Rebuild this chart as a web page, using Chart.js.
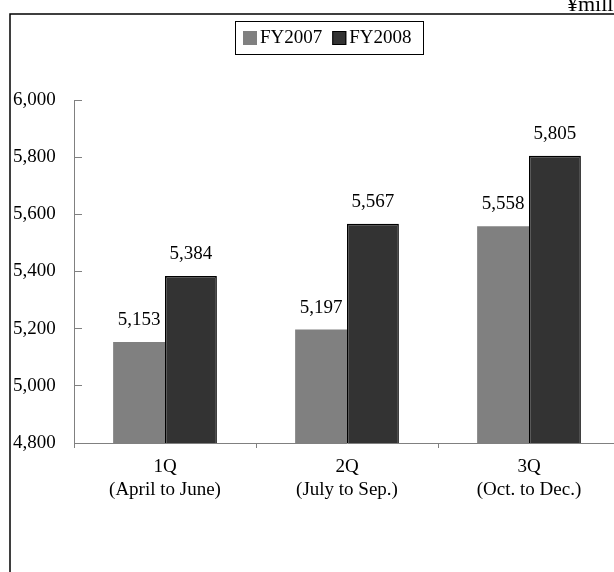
<!DOCTYPE html>
<html>
<head>
<meta charset="utf-8">
<script src="https://cdn.jsdelivr.net/npm/chart.js@4.4.1/dist/chart.umd.min.js"></script>
<style>
  html, body { margin: 0; padding: 0; background: #fff; overflow: hidden; }
  #wrap { width: 640px; height: 572px; }
</style>
</head>
<body>
<div id="wrap"><canvas id="myChart" width="640" height="572"></canvas></div>
<script>
'use strict';
const quarters = [['1Q', '(April to June)'], ['2Q', '(July to Sep.)'], ['3Q', '(Oct. to Dec.)']];
const fy2007 = [5153, 5197, 5558];
const fy2008 = [5384, 5567, 5805];
const yTicks = [4800, 5000, 5200, 5400, 5600, 5800, 6000];
const unitLabel = '¥million';

const serif = "'Liberation Serif', 'Times New Roman', serif";
const fmt = v => v.toLocaleString('en-US');

// frame, unit text, boxed legend and value labels
const decor = {
  id: 'decor',
  afterDraw(chart) {
    const c = chart.ctx;
    c.save();
    c.strokeStyle = '#000';
    c.lineWidth = 1.5;
    c.beginPath();
    c.moveTo(10, 600);
    c.lineTo(10, 14);
    c.lineTo(640, 14);
    c.stroke();

    c.fillStyle = '#000';
    c.font = '22px ' + serif;
    c.textAlign = 'left';
    c.textBaseline = 'alphabetic';
    c.fillText(unitLabel, 567, 11);

    // legend
    c.font = '19px ' + serif;
    c.lineWidth = 1;
    c.strokeRect(235.5, 21.5, 188, 33);
    let x = 243;
    chart.data.datasets.forEach(ds => {
      c.fillStyle = ds.backgroundColor;
      c.fillRect(x, 31, 14, 14);
      if (ds.borderWidth) {
        c.strokeStyle = ds.borderColor;
        c.strokeRect(x + 0.5, 31.5, 13, 13);
      }
      c.fillStyle = '#000';
      c.textBaseline = 'middle';
      c.fillText(ds.label, x + 17, 38);
      x += 17 + c.measureText(ds.label).width + 10;
    });

    // value labels
    c.textAlign = 'center';
    c.textBaseline = 'middle';
    chart.data.datasets.forEach((ds, i) => {
      chart.getDatasetMeta(i).data.forEach((bar, j) => {
        c.fillText(fmt(ds.data[j]), bar.x, bar.y - 22);
      });
    });
    c.restore();
  }
};

const ctx = document.getElementById('myChart');
const myChart = new Chart(ctx, {
  type: 'bar',
  data: {
    labels: quarters,
    datasets: [
      {
        label: 'FY2007',
        data: fy2007,
        backgroundColor: '#808080',
        borderWidth: 0,
      },
      {
        label: 'FY2008',
        data: fy2008,
        backgroundColor: '#333333',
        borderColor: '#000000',
        borderWidth: 1.5,
      },
    ],
  },
  options: {
    responsive: false,
    animation: false,
    categoryPercentage: 0.57,
    barPercentage: 1.0,
    layout: { padding: { left: 13, top: 100, right: 20, bottom: 0 } },
    plugins: {
      legend: { display: false },
      tooltip: { enabled: false },
    },
    scales: {
      x: {
        offset: true,
        border: { color: '#808080', width: 1 },
        grid: { drawOnChartArea: false, tickLength: 5, color: '#808080', offset: true },
        ticks: { font: { family: serif, size: 19 }, color: '#000', padding: 8, maxRotation: 0 },
        afterFit: s => { s.height = 129; },
      },
      y: {
        min: yTicks[0],
        max: yTicks[yTicks.length - 1],
        afterBuildTicks: s => { s.ticks = yTicks.map(v => ({ value: v })); },
        border: { color: '#808080', width: 1 },
        grid: { drawOnChartArea: false, tickLength: -8, color: '#808080' },
        ticks: {
          font: { family: serif, size: 19 },
          color: '#000',
          crossAlign: 'far',
          callback: v => fmt(v),
        },
        afterFit: s => { s.width = 61; },
      },
    },
  },
  plugins: [decor],
});
</script>
</body>
</html>
